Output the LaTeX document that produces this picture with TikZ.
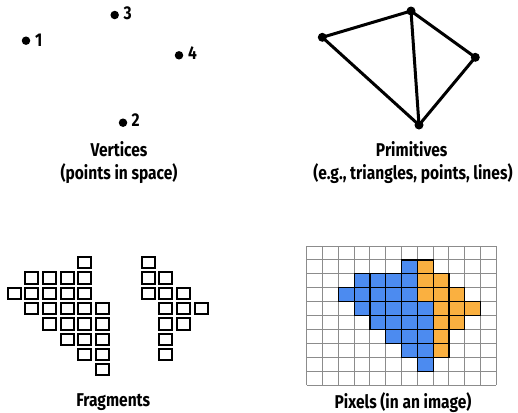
\documentclass[tikz,border=0pt]{standalone}
\usepackage{fontspec}
\setmainfont{Fira Sans}[FakeStretch=0.84]
\definecolor{pixblue}{RGB}{76,139,240}
\definecolor{pixorange}{RGB}{250,176,64}
\definecolor{gridgray}{RGB}{140,140,140}
\tikzset{
  lab/.style={inner sep=0pt, font=\fontsize{18.5bp}{23bp}\selectfont\bfseries},
  vdot/.style={circle, fill=black, inner sep=0pt, minimum size=8.5bp},
  pdot/.style={circle, fill=black, inner sep=0pt, minimum size=9bp},
  edge/.style={line width=3bp, line join=round},
  fragsq/.style={draw=black, line width=2bp},
  gridline/.style={draw=gridgray, line width=1bp},
  bluecell/.style={fill=pixblue, draw=black, line width=1.2bp},
  orangecell/.style={fill=pixorange, draw=black, line width=1.2bp}
}
\begin{document}
\begin{tikzpicture}[x=1bp,y=-1bp]
\useasboundingbox (0,0) rectangle (518,412);
% ---------- Vertices ----------
\node[vdot] (v1) at (26,40.7) {};
\node[vdot] (v3) at (114.7,15) {};
\node[vdot] (v4) at (179,55.3) {};
\node[vdot] (v2) at (123,122.7) {};
\node[lab, anchor=base west] (n1) at (35,46) {1};
\node[lab, anchor=base west] (n3) at (123.5,19) {3};
\node[lab, anchor=base west] (n4) at (188,59.3) {4};
\node[lab, anchor=base west] (n2) at (131.5,126.7) {2};
\node[lab, anchor=base] (tv1) at (119,156) {Vertices};
\node[lab, anchor=base] (tv2) at (119,179) {(points in space)};
% ---------- Primitives ----------
\node[pdot] (pa) at (322.3,37.3) {};
\node[pdot] (pb) at (411,11) {};
\node[pdot] (pc) at (475.3,57.3) {};
\node[pdot] (pd) at (419,125) {};
\draw[edge] (pa.center) -- (pb.center) -- (pc.center) -- (pd.center) -- cycle;
\draw[edge] (pb.center) -- (pd.center);
\node[lab, anchor=base] (tp1) at (411.7,156) {Primitives};
\node[lab, anchor=base] (tp2) at (413,179) {(e.g., triangles, points, lines)};
% ---------- Fragments ----------
\foreach \r/\cs in {1/{6},2/{3,4,5,6},3/{2,3,4,5,6},4/{3,4,5,6,7},5/{4,5,6,7},6/{5,6,7},7/{6,7},8/{7}}{
  \foreach \c in \cs {
    \draw[fragsq] ({7.7+17.6*(\c-2)},{257+15.3*(\r-1)}) rectangle ++(13,11.3);
  }
}
\foreach \r/\cs in {1/{7},2/{7,8},3/{7,8,9},4/{8,9,10},5/{8,9},6/{8},7/{8}}{
  \foreach \c in \cs {
    \draw[fragsq] ({141.7+17.6*(\c-7)},{257+15.3*(\r-1)}) rectangle ++(13,11.3);
  }
}
\node[lab, anchor=base] (tf) at (113.3,406) {Fragments};
% ---------- Pixels ----------
\foreach \i in {0,...,12} {
  \draw[gridline] ({306.7+15.8*\i},246) -- ({306.7+15.8*\i},385);
}
\foreach \j in {0,...,10} {
  \draw[gridline] (306.7,{246+13.9*\j}) -- (496.3,{246+13.9*\j});
}
\foreach \r/\cs in {1/{6},2/{3,4,5,6},3/{2,3,4,5,6},4/{3,4,5,6,7},5/{4,5,6,7},6/{5,6,7},7/{6,7},8/{7}}{
  \foreach \c in \cs {
    \filldraw[bluecell] ({306.7+15.8*\c},{246+13.9*\r}) rectangle ++(15.8,13.9);
  }
}
\foreach \r/\cs in {1/{7},2/{7,8},3/{7,8,9},4/{8,9,10},5/{8,9},6/{8},7/{8}}{
  \foreach \c in \cs {
    \filldraw[orangecell] ({306.7+15.8*\c},{246+13.9*\r}) rectangle ++(15.8,13.9);
  }
}
\node[lab, anchor=base] (tpx) at (403,408) {Pixels (in an image)};
\end{tikzpicture}
\end{document}
